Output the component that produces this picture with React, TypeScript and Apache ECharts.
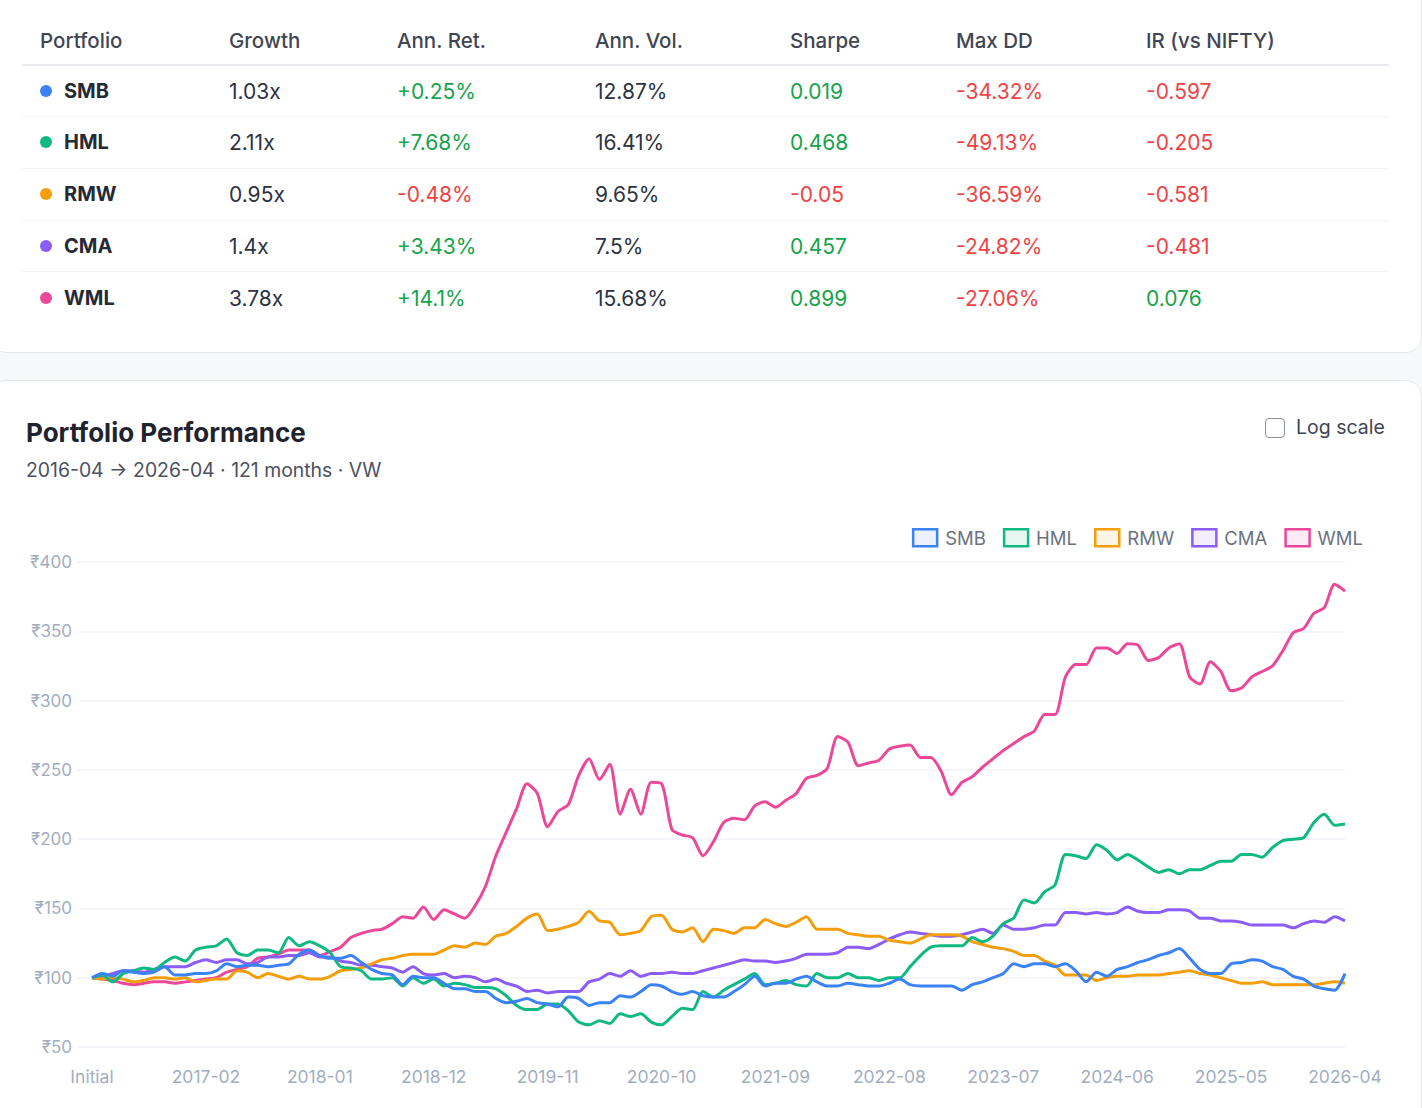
import React, { useEffect, useRef } from 'react';
import * as echarts from 'echarts';

const FONT = 'Inter, "Noto Sans", "DejaVu Sans", sans-serif';

// ---------- table data ----------
const portfolios = ['SMB', 'HML', 'RMW', 'CMA', 'WML'];
const colors = ['#3b82f6', '#10b981', '#f59e0b', '#8b5cf6', '#ec4899'];
const tints = ['rgba(59,130,246,0.1)', 'rgba(16,185,129,0.1)', 'rgba(245,158,11,0.1)', 'rgba(139,92,246,0.1)', 'rgba(236,72,153,0.1)'];
const headers = ['Portfolio', 'Growth', 'Ann. Ret.', 'Ann. Vol.', 'Sharpe', 'Max DD', 'IR (vs NIFTY)'];
const growth = ['1.03x', '2.11x', '0.95x', '1.4x', '3.78x'];
const annRet = ['+0.25%', '+7.68%', '-0.48%', '+3.43%', '+14.1%'];
const annVol = ['12.87%', '16.41%', '9.65%', '7.5%', '15.68%'];
const sharpe = ['0.019', '0.468', '-0.05', '0.457', '0.899'];
const maxDD = ['-34.32%', '-49.13%', '-36.59%', '-24.82%', '-27.06%'];
const irNifty = ['-0.597', '-0.205', '-0.581', '-0.481', '0.076'];

// ---------- chart data ----------
const categories: string[] = (() => {
  const out = ['Initial'];
  let y = 2016;
  let m = 4;
  while (out.length < 122) {
    out.push(`${y}-${String(m).padStart(2, '0')}`);
    m++;
    if (m > 12) { m = 1; y++; }
  }
  return out;
})();

const yTicks = { min: 50, max: 400, interval: 50 };

const SMB = [100, 103, 101, 105, 104, 103, 104, 108, 102, 102, 103, 103, 105, 110, 108, 109, 109, 108, 109, 110,
  117, 120, 116, 114, 114, 116, 111, 106, 103, 102, 95, 101, 100, 100, 96, 92, 92, 90, 90, 85,
  82, 83, 85, 82, 81, 79, 86, 85, 80, 82, 82, 87, 86, 90, 95, 94, 90, 88, 90, 87,
  86, 86, 90, 95, 101, 94, 96, 96, 99, 101, 97, 94, 94, 96, 95, 94, 94, 96, 99, 95,
  94, 94, 94, 94, 91, 95, 97, 100, 103, 110, 108, 110, 110, 108, 110, 105, 97, 104, 101, 106,
  108, 111, 113, 116, 118, 121, 114, 106, 103, 103, 110, 111, 113, 112, 108, 106, 101, 99, 94, 92,
  91, 103];

const HML = [100, 102, 97, 103, 105, 107, 106, 111, 115, 112, 120, 122, 123, 128, 118, 116, 120, 120, 118, 129,
  123, 126, 123, 118, 108, 107, 105, 99, 99, 100, 94, 100, 96, 99, 94, 96, 95, 93, 93, 92,
  87, 80, 77, 77, 81, 81, 76, 68, 66, 69, 67, 74, 72, 74, 68, 66, 72, 78, 77, 90,
  86, 91, 95, 99, 103, 95, 96, 98, 95, 94, 103, 100, 100, 103, 100, 100, 98, 100, 100, 108,
  116, 122, 123, 123, 123, 129, 126, 130, 139, 143, 156, 154, 162, 167, 189, 188, 186, 196, 192, 185,
  189, 185, 180, 176, 178, 175, 178, 178, 181, 184, 184, 189, 189, 187, 194, 199, 200, 201, 212, 218,
  210, 211];

const RMW = [100, 99, 100, 99, 97, 98, 100, 100, 99, 100, 97, 98, 99, 99, 105, 104, 100, 103, 101, 99,
  101, 99, 99, 101, 105, 106, 107, 110, 113, 114, 116, 117, 117, 117, 120, 123, 122, 125, 124, 130,
  132, 137, 143, 146, 134, 135, 137, 140, 148, 141, 140, 131, 132, 134, 144, 145, 135, 133, 136, 126,
  135, 134, 132, 136, 136, 142, 139, 137, 140, 144, 135, 135, 135, 132, 131, 130, 130, 127, 126, 125,
  128, 131, 131, 131, 130, 126, 124, 122, 121, 119, 116, 116, 112, 109, 102, 102, 102, 98, 100, 101,
  101, 102, 102, 102, 103, 104, 105, 103, 102, 100, 98, 96, 96, 97, 95, 95, 95, 95, 95, 96,
  97, 96];

const CMA = [100, 101, 103, 105, 105, 104, 106, 108, 108, 108, 111, 113, 111, 113, 113, 110, 111, 115, 115, 116,
  116, 118, 115, 115, 112, 111, 109, 109, 108, 107, 104, 108, 103, 102, 103, 100, 101, 100, 97, 99,
  96, 94, 90, 91, 89, 90, 90, 90, 97, 99, 103, 101, 105, 101, 103, 103, 104, 103, 103, 105,
  107, 109, 111, 113, 112, 112, 111, 112, 114, 117, 117, 117, 118, 122, 122, 121, 124, 128, 131, 133,
  132, 131, 130, 130, 131, 133, 135, 132, 138, 135, 135, 136, 138, 138, 147, 147, 146, 147, 146, 147,
  151, 148, 147, 147, 149, 149, 148, 143, 143, 141, 141, 140, 138, 138, 138, 138, 136, 139, 141, 140,
  144, 141];

const WML = [100, 99, 98, 96, 95, 96, 97, 97, 96, 97, 98, 99, 100, 104, 106, 108, 114, 115, 117, 120,
  120, 120, 116, 119, 122, 129, 132, 134, 135, 139, 144, 143, 151, 142, 149, 146, 143, 152, 166, 188,
  205, 222, 240, 233, 209, 220, 225, 246, 258, 243, 254, 218, 236, 218, 241, 240, 207, 203, 201, 188,
  198, 212, 215, 214, 224, 227, 223, 228, 233, 244, 246, 251, 274, 270, 253, 255, 257, 265, 267, 268,
  259, 259, 249, 232, 241, 245, 252, 258, 264, 269, 274, 278, 290, 290, 317, 326, 326, 338, 338, 334,
  341, 340, 329, 331, 338, 341, 317, 312, 328, 321, 307, 309, 317, 321, 325, 336, 349, 352, 363, 367,
  384, 379];

const seriesValues = [SMB, HML, RMW, CMA, WML];
const labelIndices = [0, 11, 22, 33, 44, 55, 66, 77, 88, 99, 110, 121];

const GREEN = '#16a34a';
const RED = '#ef4444';
const colorOf = (s: string) => (s.trim().startsWith('-') ? RED : GREEN);

const colLeft = [40, 229, 397, 595, 790, 956, 1146];

function Table() {
  const rowY = [91, 142, 194, 246, 298];
  const cells: React.ReactNode[] = [];
  headers.forEach((h, i) => {
    cells.push(
      <div key={'h' + i} style={{ position: 'absolute', left: colLeft[i], top: 40, transform: 'translateY(-50%)', fontSize: 20.5, fontWeight: 500, color: '#3f4654', whiteSpace: 'nowrap' }}>{h}</div>
    );
  });
  portfolios.forEach((p, r) => {
    const y = rowY[r];
    const vals = [growth[r], annRet[r], annVol[r], sharpe[r], maxDD[r], irNifty[r]];
    const cols = ['#2d3340', colorOf(annRet[r]), '#2d3340', colorOf(sharpe[r]), RED, colorOf(irNifty[r])];
    cells.push(
      <div key={'d' + r} style={{ position: 'absolute', left: 40, top: y - 6, width: 12, height: 12, borderRadius: 6, background: colors[r] }} />
    );
    cells.push(
      <div key={'n' + r} style={{ position: 'absolute', left: 64, top: y, transform: 'translateY(-50%)', fontSize: 20, fontWeight: 700, color: '#252b36' }}>{p}</div>
    );
    vals.forEach((v, c) => {
      cells.push(
        <div key={'v' + r + '-' + c} style={{ position: 'absolute', left: colLeft[c + 1], top: y, transform: 'translateY(-50%)', fontSize: 21, color: cols[c], whiteSpace: 'nowrap' }}>{v}</div>
      );
    });
  });
  const lines = [
    <div key="hl" style={{ position: 'absolute', left: 22, top: 64, width: 1367, height: 2, background: '#e8eaee' }} />,
    ...[116, 168, 220, 271].map((y, i) => (
      <div key={'rl' + i} style={{ position: 'absolute', left: 22, top: y, width: 1367, height: 1, background: '#f1f3f6' }} />
    )),
  ];
  return <>{lines}{cells}</>;
}

function Chart() {
  const ref = useRef<HTMLDivElement>(null);
  useEffect(() => {
    if (!ref.current) return;
    const chart = echarts.init(ref.current, undefined, { renderer: 'svg' });
    chart.setOption({
      animation: false,
      textStyle: { fontFamily: FONT },
      grid: { left: 78, right: 77, top: 62, bottom: 61 },
      legend: {
        right: 54,
        top: 23,
        icon: 'rect',
        itemWidth: 24,
        itemHeight: 17,
        itemGap: 17,
        textStyle: { fontSize: 18.5, color: '#6b7280', fontFamily: FONT, padding: [0, 0, 0, 3] },
        data: portfolios.map((p, i) => ({
          name: p,
          itemStyle: { color: tints[i], borderColor: colors[i], borderWidth: 2.5 },
        })),
      },
      xAxis: {
        type: 'value',
        min: -1.353,
        max: 121,
        axisLine: { show: false },
        axisTick: { show: false },
        splitLine: { show: false },
        axisLabel: {
          customValues: labelIndices,
          formatter: (v: number) => categories[Math.round(v)] ?? '',
          color: '#a3adbf',
          fontSize: 17.5,
          margin: 20,
          fontFamily: FONT,
        },
      },
      yAxis: {
        type: 'value',
        min: yTicks.min,
        max: yTicks.max,
        interval: yTicks.interval,
        axisLine: { show: false },
        axisTick: { show: false },
        splitLine: { lineStyle: { color: '#f0f2f6', width: 1.5 } },
        axisLabel: {
          formatter: '₹{value}',
          color: '#a3adbf',
          fontSize: 17,
          margin: 6,
          fontFamily: FONT,
        },
      },
      series: portfolios.map((p, i) => ({
        name: p,
        type: 'line',
        data: seriesValues[i].map((v, k) => [k, v]),
        showSymbol: false,
        smooth: 0.25,
        lineStyle: { color: colors[i], width: 3 },
        itemStyle: { color: colors[i] },
        z: 10 - i,
      })),
    });
    return () => chart.dispose();
  }, []);
  return <div ref={ref} style={{ position: 'absolute', left: 0, top: 500, width: 1422, height: 608 }} />;
}

export default function App() {
  return (
    <div style={{ position: 'absolute', left: 0, top: 0, width: 1422, height: 1108, overflow: 'hidden', background: '#f7f8fa', fontFamily: FONT }}>
      <div style={{ position: 'absolute', left: -10, top: -20, width: 1430, height: 371, background: '#ffffff', border: '1px solid #e6e8ec', borderRadius: 16 }} />
      <Table />
      <div style={{ position: 'absolute', left: -10, top: 380, width: 1430, height: 760, background: '#ffffff', border: '1px solid #e6e8ec', borderRadius: 16 }} />
      <div style={{ position: 'absolute', left: 26, top: 432, transform: 'translateY(-50%)', fontSize: 26, fontWeight: 700, color: '#1e2330', whiteSpace: 'nowrap' }}>Portfolio Performance</div>
      <div style={{ position: 'absolute', left: 26, top: 470, transform: 'translateY(-50%)', fontSize: 19.4, color: '#4b5260', whiteSpace: 'nowrap' }}>2016-04 → 2026-04 · 121 months · VW</div>
      <div style={{ position: 'absolute', left: 1265, top: 418, width: 18, height: 18, border: '1.5px solid #8a919c', borderRadius: 4, background: '#fff' }} />
      <div style={{ position: 'absolute', left: 1296, top: 427, transform: 'translateY(-50%)', fontSize: 19.5, color: '#3f4654', whiteSpace: 'nowrap' }}>Log scale</div>
      <Chart />
    </div>
  );
}
